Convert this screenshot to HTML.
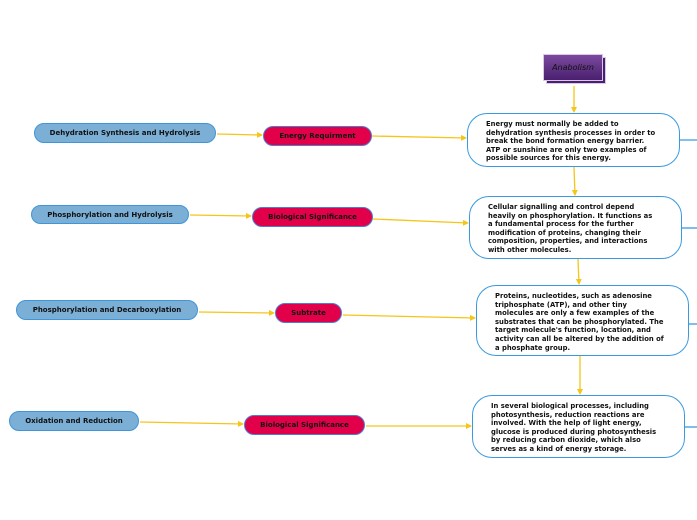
<!DOCTYPE html>
<html><head><meta charset="utf-8"><style>
body{margin:0;width:697px;height:520px;background:#fff;position:relative;overflow:hidden;font-family:"DejaVu Sans","Liberation Sans",sans-serif;font-weight:bold;}
.b{position:absolute;box-sizing:border-box;}
.pill{border-radius:10px;display:flex;align-items:center;justify-content:center;font-size:7px;color:#111;}
.blue{background:#7bafd6;border:1px solid #3e95d8;}
.red{background:#e2004b;border:1px solid #4a7fd0;}
.big{background:#fff;border:1px solid #3a9ae0;border-radius:20px;font-size:6.8px;line-height:8.6px;color:#111;padding-top:6px;}
</style></head><body>
<svg width="697" height="520" style="position:absolute;left:0;top:0">
<defs><marker id="a" markerWidth="6" markerHeight="6" refX="5" refY="3" orient="auto" markerUnits="userSpaceOnUse"><path d="M0,0 L6,3 L0,6z" fill="#f5c518"/></marker></defs>
<g stroke="#f5c518" stroke-width="1.3" fill="none" marker-end="url(#a)">
<line x1="217" y1="134" x2="262" y2="135"/>
<line x1="190" y1="215" x2="251" y2="216"/>
<line x1="199" y1="312" x2="274" y2="313"/>
<line x1="140" y1="422" x2="243" y2="424"/>
<line x1="372" y1="136" x2="466" y2="138"/>
<line x1="373" y1="219" x2="468" y2="223"/>
<line x1="343" y1="315" x2="475" y2="318"/>
<line x1="366" y1="426" x2="471" y2="426"/>
<line x1="574" y1="86" x2="574" y2="112"/>
<line x1="574" y1="167" x2="575" y2="195"/>
<line x1="578" y1="259" x2="579" y2="284"/>
<line x1="580" y1="356" x2="580" y2="394"/>
</g>
<g stroke="#3a9ae0" stroke-width="1.3">
<line x1="680" y1="140" x2="697" y2="140"/>
<line x1="682" y1="228" x2="697" y2="228"/>
<line x1="688" y1="324" x2="697" y2="324"/>
<line x1="685" y1="427" x2="697" y2="427"/>
</g>
</svg>
<div class="b" style="left:546px;top:57px;width:60px;height:27px;background:#4b1f70;border:1px solid #d9c9e6"></div>
<div class="b" style="left:543px;top:54px;width:60px;height:27px;background:linear-gradient(#7a4a9e,#4a1f6e);border:1px solid #d9c9e6;display:flex;align-items:center;justify-content:center;font-family:'DejaVu Sans',sans-serif;font-style:italic;font-weight:normal;font-size:8px;color:#111">Anabolism</div>

<div class="b pill blue" style="left:34px;top:123px;width:182px;height:20px">Dehydration Synthesis and Hydrolysis</div>
<div class="b pill blue" style="left:31px;top:205px;width:158px;height:19px">Phosphorylation and Hydrolysis</div>
<div class="b pill blue" style="left:16px;top:300px;width:182px;height:20px">Phosphorylation and Decarboxylation</div>
<div class="b pill blue" style="left:9px;top:411px;width:130px;height:20px">Oxidation and Reduction</div>

<div class="b pill red" style="left:263px;top:126px;width:109px;height:20px">Energy Requirment</div>
<div class="b pill red" style="left:252px;top:207px;width:121px;height:20px">Biological Significance</div>
<div class="b pill red" style="left:275px;top:303px;width:67px;height:20px">Subtrate</div>
<div class="b pill red" style="left:244px;top:415px;width:121px;height:20px">Biological Significance</div>

<div class="b big" style="left:467px;top:113px;width:213px;height:54px;padding-left:18px">Energy must normally be added to<br>dehydration synthesis processes in order to<br>break the bond formation energy barrier.<br>ATP or sunshine are only two examples of<br>possible sources for this energy.</div>
<div class="b big" style="left:469px;top:196px;width:213px;height:63px;padding-left:18px">Cellular signalling and control depend<br>heavily on phosphorylation. It functions as<br>a fundamental process for the further<br>modification of proteins, changing their<br>composition, properties, and interactions<br>with other molecules.</div>
<div class="b big" style="left:476px;top:285px;width:213px;height:71px;padding-left:18px">Proteins, nucleotides, such as adenosine<br>triphosphate (ATP), and other tiny<br>molecules are only a few examples of the<br>substrates that can be phosphorylated. The<br>target molecule's function, location, and<br>activity can all be altered by the addition of<br>a phosphate group.</div>
<div class="b big" style="left:472px;top:395px;width:213px;height:63px;padding-left:18px">In several biological processes, including<br>photosynthesis, reduction reactions are<br>involved. With the help of light energy,<br>glucose is produced during photosynthesis<br>by reducing carbon dioxide, which also<br>serves as a kind of energy storage.</div>
</body></html>
